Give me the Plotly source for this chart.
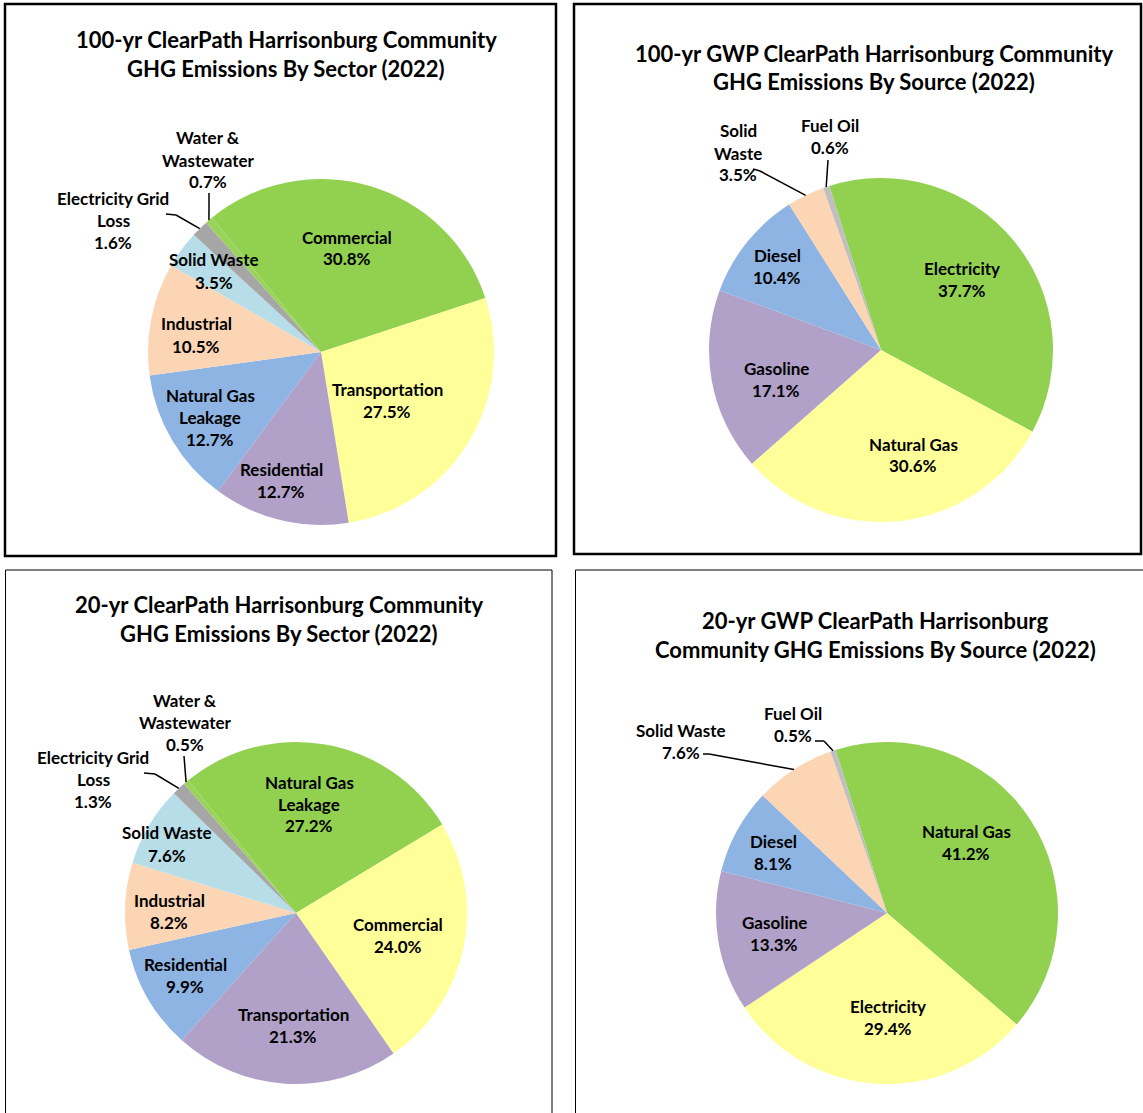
import math
import plotly.graph_objects as go

W, H = 1143, 1113

# ---------------- data ----------------
sector100_labels = ["Commercial", "Transportation", "Residential", "Natural Gas Leakage",
                    "Industrial", "Solid Waste", "Electricity Grid Loss", "Water & Wastewater"]
sector100_values = [30.8, 27.5, 12.7, 12.7, 10.5, 3.5, 1.6, 0.7]

source100_labels = ["Electricity", "Natural Gas", "Gasoline", "Diesel", "Solid Waste", "Fuel Oil"]
source100_values = [37.7, 30.6, 17.1, 10.4, 3.5, 0.6]

sector20_labels = ["Natural Gas Leakage", "Commercial", "Transportation", "Residential",
                   "Industrial", "Solid Waste", "Electricity Grid Loss", "Water & Wastewater"]
sector20_values = [27.2, 24.0, 21.3, 9.9, 8.2, 7.6, 1.3, 0.5]

source20_labels = ["Natural Gas", "Electricity", "Gasoline", "Diesel", "Solid Waste", "Fuel Oil"]
source20_values = [41.2, 29.4, 13.3, 8.1, 7.6, 0.5]

titles = [
    ["100-yr ClearPath Harrisonburg Community", "GHG Emissions By Sector (2022)"],
    ["100-yr GWP ClearPath Harrisonburg Community", "GHG Emissions By Source (2022)"],
    ["20-yr ClearPath Harrisonburg Community", "GHG Emissions By Sector (2022)"],
    ["20-yr GWP ClearPath Harrisonburg", "Community GHG Emissions By Source (2022)"],
]

# ---------------- styles ----------------
GREEN, YELLOW, PURPLE, BLUE = "#92D050", "#FFFF99", "#B1A0C7", "#8DB4E2"
PEACH, LBLUE, GRAY, LGRAY, GREEN2 = "#FCD5B4", "#B7DEE8", "#A6A6A6", "#BFBFBF", "#9AD35B"
sector_colors = [GREEN, YELLOW, PURPLE, BLUE, PEACH, LBLUE, GRAY, GREEN2]
source_colors = [GREEN, YELLOW, PURPLE, BLUE, PEACH, LGRAY]

FONT = "Lato, 'Open Sans', sans-serif"
LABEL_SIZE = 17
TITLE_SIZE = 22


def X(px):
    return px / W


def Y(py):
    return 1 - py / H


def fmt(v):
    return f"{v:.1f}%"


charts = [
    dict(labels=sector100_labels, values=sector100_values, colors=sector_colors,
         c=(321, 352), r=173, rot=-39.1,
         title_c=(286, 40), box=(5, 4, 556, 556), bw=2.5,
         text={
             "Commercial": (["Commercial"], 347, 237),
             "Transportation": (["Transportation"], 387, 389),
             "Residential": (["Residential"], 281, 469),
             "Natural Gas Leakage": (["Natural Gas", "Leakage"], 210, 395),
             "Industrial": (["Industrial"], 196, 324),
             "Solid Waste": (["Solid Waste"], 214, 260),
             "Electricity Grid Loss": (["Electricity Grid", "Loss"], 113, 198),
             "Water & Wastewater": (["Water &", "Wastewater"], 208, 138),
         },
         leaders={"Electricity Grid Loss": [(166, 214), (176, 215)],
                  "Water & Wastewater": [(209, 193)]}),
    dict(labels=source100_labels, values=source100_values, colors=source_colors,
         c=(881, 350), r=172, rot=-17.5,
         title_c=(874, 53), box=(574, 4, 1141, 554), bw=2.5,
         text={
             "Electricity": (["Electricity"], 962, 268),
             "Natural Gas": (["Natural Gas"], 913, 444),
             "Gasoline": (["Gasoline"], 776, 368),
             "Diesel": (["Diesel"], 777, 255),
             "Solid Waste": (["Solid", "Waste"], 738, 131),
             "Fuel Oil": (["Fuel Oil"], 830, 126),
         },
         leaders={"Solid Waste": [(753, 169), (760, 171)],
                  "Fuel Oil": [(828, 160)]}),
    dict(labels=sector20_labels, values=sector20_values, colors=sector_colors,
         c=(296, 913), r=171, rot=-39.1,
         title_c=(279, 604), box=(5.5, 570, 552, 1116), bw=1,
         text={
             "Natural Gas Leakage": (["Natural Gas", "Leakage"], 309, 782),
             "Commercial": (["Commercial"], 398, 924),
             "Transportation": (["Transportation"], 293, 1014),
             "Residential": (["Residential"], 185, 964),
             "Industrial": (["Industrial"], 169, 900),
             "Solid Waste": (["Solid Waste"], 167, 833),
             "Electricity Grid Loss": (["Electricity Grid", "Loss"], 93, 757),
             "Water & Wastewater": (["Water &", "Wastewater"], 185, 700),
         },
         leaders={"Electricity Grid Loss": [(144, 773), (155, 774)],
                  "Water & Wastewater": [(184, 756)]}),
    dict(labels=source20_labels, values=source20_values, colors=source_colors,
         c=(887, 913), r=171, rot=-17.5,
         title_c=(875, 620), box=(575.5, 570, 1146, 1116), bw=1,
         text={
             "Natural Gas": (["Natural Gas"], 966, 831),
             "Electricity": (["Electricity"], 888, 1006),
             "Gasoline": (["Gasoline"], 774, 922),
             "Diesel": (["Diesel"], 773, 841),
             "Solid Waste": (["Solid Waste"], 681, 730),
             "Fuel Oil": (["Fuel Oil"], 793, 713),
         },
         leaders={"Solid Waste": [(703, 754), (709, 754)],
                  "Fuel Oil": [(815, 741), (824, 741)]}),
]

fig = go.Figure()
annotations = []
shapes = []
LINE_H = 22

for ch, tl in zip(charts, titles):
    cx, cy = ch["c"]
    r = ch["r"]
    fig.add_trace(go.Pie(
        labels=ch["labels"], values=ch["values"],
        marker=dict(colors=ch["colors"], line=dict(width=0)),
        sort=False, direction="clockwise", rotation=ch["rot"],
        textinfo="none", showlegend=False,
        domain=dict(x=[X(cx - r), X(cx + r)], y=[Y(cy + r), Y(cy - r)]),
    ))
    # panel frame
    x0, y0, x1, y1 = ch["box"]
    shapes.append(dict(type="rect", xref="paper", yref="paper",
                       x0=X(x0), x1=X(x1), y0=Y(y1), y1=Y(y0),
                       line=dict(color="black", width=ch["bw"])))
    # title
    tx, ty = ch["title_c"]
    for i, t in enumerate(tl):
        annotations.append(dict(x=X(tx), y=Y(ty + i * 29), xref="paper", yref="paper",
                                text=f"<b>{t}</b>", showarrow=False,
                                font=dict(family=FONT, size=TITLE_SIZE, color="black"),
                                xanchor="center", yanchor="middle"))
    # data labels + leader lines
    total = sum(ch["values"])
    cum = 0.0
    for lab, v in zip(ch["labels"], ch["values"]):
        lines, lx, ly = ch["text"][lab]
        all_lines = lines + [fmt(v)]
        for i, s in enumerate(all_lines):
            annotations.append(dict(x=X(lx), y=Y(ly + i * LINE_H), xref="paper", yref="paper",
                                    text=f"<b>{s}</b>", showarrow=False,
                                    font=dict(family=FONT, size=LABEL_SIZE, color="black"),
                                    xanchor="center", yanchor="middle"))
        mid = math.radians(ch["rot"] + 360 * (cum + v / 2) / total)
        cum += v
        if lab in ch["leaders"]:
            ex, ey = cx + r * math.sin(mid), cy - r * math.cos(mid)
            pts = ch["leaders"][lab] + [(ex, ey)]
            for (ax, ay), (bx, by) in zip(pts[:-1], pts[1:]):
                shapes.append(dict(type="line", xref="paper", yref="paper",
                                   x0=X(ax), y0=Y(ay), x1=X(bx), y1=Y(by),
                                   line=dict(color="black", width=1.5)))

fig.update_layout(
    width=W, height=H,
    margin=dict(l=0, r=0, t=0, b=0),
    paper_bgcolor="white", plot_bgcolor="white",
    annotations=annotations, shapes=shapes,
)

fig.write_html("out.html", config={"displayModeBar": False},
               post_script="document.body.style.margin='0';")
